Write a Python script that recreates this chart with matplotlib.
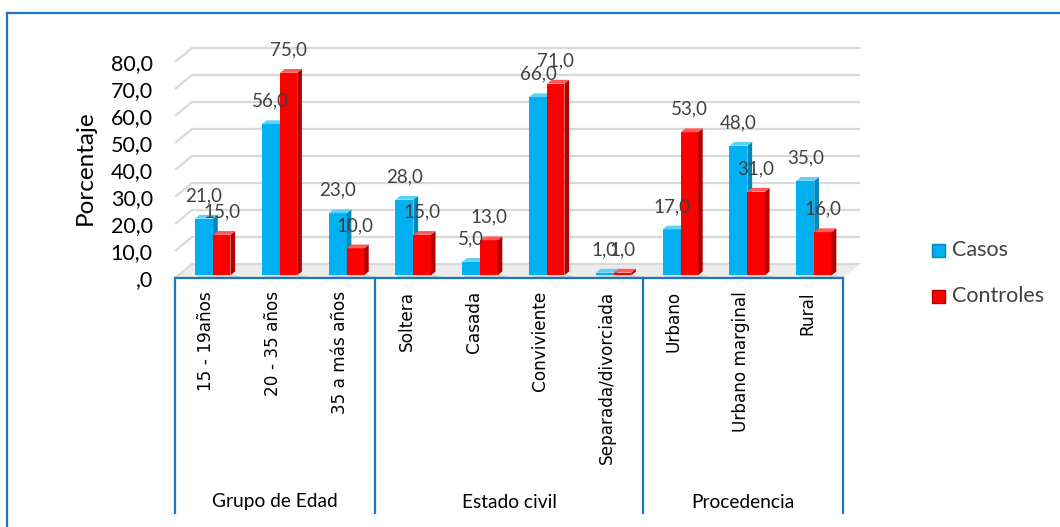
import matplotlib
matplotlib.use("Agg")
import matplotlib.pyplot as plt
from matplotlib.patches import Polygon, Rectangle
from matplotlib.lines import Line2D

# ---------------- data ----------------
categories = ["15 - 19años", "20 - 35 años", "35 a más años",
              "Soltera", "Casada", "Conviviente", "Separada/divorciada",
              "Urbano", "Urbano marginal", "Rural"]
groups = ["Grupo de Edad", "Estado civil", "Procedencia"]
group_sizes = [3, 4, 3]
casos = [21.0, 56.0, 23.0, 28.0, 5.0, 66.0, 1.0, 17.0, 48.0, 35.0]
controles = [15.0, 75.0, 10.0, 15.0, 13.0, 71.0, 1.0, 53.0, 31.0, 16.0]
series_names = ["Casos", "Controles"]
yticks = [0, 10, 20, 30, 40, 50, 60, 70, 80]
ytick_labels = [",0", "10,0", "20,0", "30,0", "40,0", "50,0", "60,0", "70,0", "80,0"]

# ---------------- style ----------------
W, H = 1060, 527
CALIBRI = ["Lato", "DejaVu Sans"]
blue_line = "#1a75c9"
grid_col = "#d9d9d9"
face = {"Casos": ("#00b0f0", "#0086bd", "#5fd0f7"),
        "Controles": ("#ff0000", "#b50000", "#ff5a5a")}

fig = plt.figure(figsize=(W / 100, H / 100), dpi=100)

# outer frame (only top and left visible)
fig.add_artist(Line2D([7 / W, 7 / W], [0, 1 - 13 / H], transform=fig.transFigure,
                      color=blue_line, lw=1.6))
fig.add_artist(Line2D([7 / W, 1], [1 - 13 / H, 1 - 13 / H], transform=fig.transFigure,
                      color=blue_line, lw=1.6))

ax_l, ax_r, ax_bot, ax_top = 175, 843, 278, 62
ax = fig.add_axes([ax_l / W, 1 - ax_bot / H, (ax_r - ax_l) / W, (ax_bot - ax_top) / H])
n = len(categories)
ax.set_xlim(-0.5, n - 0.5)
ax.set_ylim(0, 80)
for s in ax.spines.values():
    s.set_visible(False)
ax.set_xticks([])
ax.set_yticks(yticks)
ax.set_yticklabels(ytick_labels, fontsize=15.5, family=CALIBRI, color="black")
ax.tick_params(axis="y", length=0, pad=16)
ax.patch.set_alpha(0)

pxx = (ax_r - ax_l) / n          # px per x unit
pxy = (ax_bot - ax_top) / 80.0   # px per y unit
dxu = 17 / pxx
dyu = 14 / pxy

# floor
ax.add_patch(Polygon([(-0.5, 0), (n - 0.5, 0), (n - 0.5 + dxu, dyu), (-0.5 + dxu, dyu)],
                     closed=True, facecolor="#ececec", edgecolor="none", zorder=0.5,
                     clip_on=False))
# back wall gridlines and side diagonals
for v in yticks:
    ax.plot([-0.5, -0.5 + dxu, n - 0.5 + dxu], [v, v + dyu, v + dyu],
            color=grid_col, lw=1.6, zorder=0.6, clip_on=False, solid_capstyle="butt")

# bars (3-D boxes)
b0 = 1.0
s_w = 0.07
t_h = 1.4
x = list(range(n))
offsets = {"Casos": (-0.20, 0.07), "Controles": (0.07, 0.33)}
for zi, (name, vals) in enumerate([("Casos", casos), ("Controles", controles)]):
    lo, hi = offsets[name]
    fc, sc, tc = face[name]
    w = hi - lo
    lefts = [xi + lo for xi in x]
    ax.bar(lefts, vals, width=w, bottom=b0, align="edge", color=fc,
           edgecolor="none", zorder=2 + zi * 2, clip_on=False)
    for xl, v in zip(lefts, vals):
        xr = xl + w
        top = b0 + v
        ax.add_patch(Polygon([(xr, b0), (xr + s_w, b0 + t_h), (xr + s_w, top + t_h), (xr, top)],
                             closed=True, facecolor=sc, edgecolor="none",
                             zorder=2.5 + zi * 2, clip_on=False))
        ax.add_patch(Polygon([(xl, top), (xr, top), (xr + s_w, top + t_h), (xl + s_w, top + t_h)],
                             closed=True, facecolor=tc, edgecolor="none",
                             zorder=2.6 + zi * 2, clip_on=False))
        # soft shadow on floor
        ax.add_patch(Polygon([(xl, b0), (xr + s_w, b0), (xr + s_w + 0.12, b0 - 0.6), (xl + 0.05, b0 - 0.6)],
                             closed=True, facecolor="#d0d0d0", edgecolor="none",
                             zorder=1, clip_on=False))
        ax.annotate(f"{v:.1f}".replace(".", ","), (xl + w / 2, top),
                    xytext=(0, 16.5), textcoords="offset points",
                    ha="center", va="center", fontsize=13.5, family=CALIBRI,
                    color="#404040", zorder=10, annotation_clip=False)

# category axis (multi-level)
def fx(xdata):
    return (ax_l + (xdata + 0.5) * pxx) / W

def fy(py):
    return 1 - py / H

fig.add_artist(Line2D([ax_l / W, ax_r / W], [fy(ax_bot), fy(ax_bot)],
                      transform=fig.transFigure, color=blue_line, lw=1.6))
bounds = [0]
for g in group_sizes:
    bounds.append(bounds[-1] + g)
for b in bounds:
    xf = (ax_l + b * pxx) / W
    fig.add_artist(Line2D([xf, xf], [fy(ax_bot), fy(513)], transform=fig.transFigure,
                          color=blue_line, lw=1.6))
for i, lab in enumerate(categories):
    fig.text(fx(i) - 2 / W, fy(291), lab, rotation=90, ha="center", va="top",
             fontsize=12.2, family="DejaVu Sans", color="black")
for gi, g in enumerate(groups):
    c = (bounds[gi] + bounds[gi + 1]) / 2 - 0.5
    fig.text(fx(c), fy(502), g, ha="center", va="center",
             fontsize=13.8, family=CALIBRI, color="black")

# y axis title
fig.text(85 / W, fy(168), "Porcentaje", rotation=90, ha="center", va="center",
         fontsize=17.5, family=CALIBRI, color="black")

# legend
for name, yy in zip(series_names, [250, 296]):
    fc, sc, tc = face[name]
    fig.add_artist(Rectangle((932 / W, fy(yy + 7)), 13 / W, 13 / H,
                             transform=fig.transFigure, facecolor=fc, edgecolor=sc, lw=1))
    fig.text(952 / W, fy(yy), name, ha="left", va="center", fontsize=15.5,
             family=CALIBRI, color="#404040")

fig.savefig("out.png", dpi=100)
